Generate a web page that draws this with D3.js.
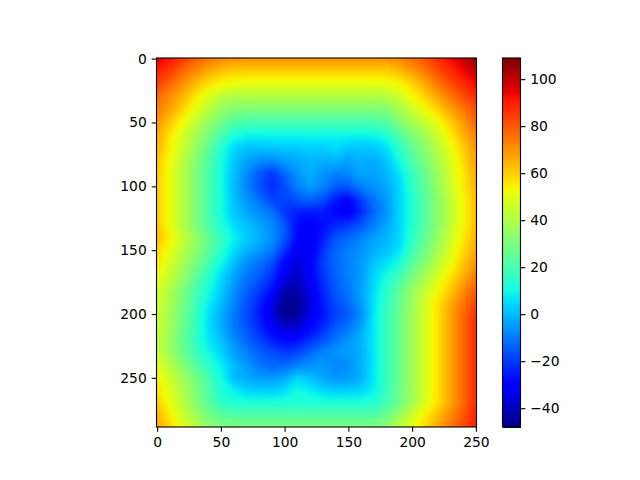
<!DOCTYPE html>
<html><head><meta charset="utf-8">
<script src="https://cdn.jsdelivr.net/npm/d3@7"></script>
<style>html,body{margin:0;padding:0;background:#fff}svg{display:block}
text{font-family:"DejaVu Sans",sans-serif;font-size:13.89px;fill:#000}</style></head>
<body><svg id="c" width="640" height="480"></svg>
<script>
const xTicks=[0,50,100,150,200,250];
const yTicks=[0,50,100,150,200,250];
const cbarTicks=[-40,-20,0,20,40,60,80,100];
const valueMin=-48, valueMax=109;
const xExtent=[-0.5,250.5], yExtent=[288.5,-0.5];
const sampleStep=10;
// field values, one row per 10 data units of y, 10 data units of x apart
const fieldRows=[
[97,92,86,80,76,73,71,71,71,71,71,71,71,71,71,71,71,71,71,73,77,81,88,94,100,108],
[90,85,78,72,67,63,61,61,61,61,61,61,61,61,61,61,61,61,61,64,69,75,82,88,94,101],
[85,78,71,64,58,54,52,51,51,51,51,51,51,51,51,51,51,51,51,54,60,67,75,82,88,94],
[78,72,65,57,49,43,41,41,41,41,41,41,41,41,41,41,41,41,42,46,53,60,68,75,82,88],
[75,68,60,51,43,36,32,31,31,31,31,31,31,31,31,31,31,31,32,39,46,53,60,68,75,82],
[71,62,53,44,36,29,23,21,21,21,21,21,21,21,21,21,21,21,23,32,39,45,52,61,70,79],
[67,57,48,39,31,22,13,10,10,10,10,10,10,10,10,10,10,10,14,23,31,38,47,56,65,74],
[66,55,46,36,26,15,5,2,2,3,3,3,4,4,6,3,2,3,6,16,26,34,42,51,61,71],
[63,53,43,33,23,13,3,-3,-6,-7,-4,-2,0,-1,0,-4,0,-2,3,12,22,31,40,49,59,69],
[62,52,42,32,22,12,2,-6,-14,-20,-12,-5,-1,-5,-8,-7,-2,-3,0,7,17,27,37,47,57,67],
[62,52,42,32,22,12,1,-7,-15,-22,-16,-8,-3,-7,-14,-14,-8,-5,-2,5,16,26,36,46,56,66],
[62,52,42,32,22,12,2,-5,-11,-18,-18,-14,-12,-15,-24,-28,-18,-10,-4,5,14,24,34,44,54,64],
[62,52,42,32,22,12,3,-2,-6,-10,-20,-24,-24,-24,-28,-31,-22,-12,-5,5,14,24,34,44,54,64],
[62,52,42,32,22,14,6,2,-2,-7,-14,-27,-31,-26,-22,-20,-15,-8,-3,5,14,24,34,44,54,64],
[65,55,45,36,27,18,10,4,0,-5,-14,-28,-32,-24,-15,-12,-8,-3,0,5,16,26,36,46,56,66],
[60,51,43,35,25,16,6,0,-4,-9,-20,-32,-32,-20,-12,-8,-5,-1,2,7,19,29,39,49,59,68],
[57,48,39,31,21,11,2,-6,-10,-16,-28,-36,-30,-18,-12,-8,-4,3,7,12,24,33,43,52,62,71],
[54,45,36,26,16,6,-2,-9,-14,-20,-32,-38,-30,-20,-13,-8,-4,5,12,20,30,39,48,57,66,75],
[50,41,32,22,13,4,-5,-12,-18,-26,-40,-42,-32,-22,-14,-9,-3,6,15,25,35,44,53,62,71,80],
[48,39,30,20,10,2,-7,-15,-22,-32,-45,-44,-34,-24,-16,-11,-4,7,17,27,37,47,57,66,75,84],
[47,38,29,18,7,-1,-9,-16,-24,-35,-47,-45,-34,-25,-18,-14,-6,8,18,28,38,48,58,68,78,88],
[47,38,28,18,7,-1,-9,-15,-22,-30,-37,-36,-28,-22,-14,-10,-3,8,18,28,38,48,58,68,78,88],
[45,36,27,17,8,2,-6,-12,-18,-24,-28,-27,-21,-16,-10,-5,0,8,18,28,38,48,58,68,78,88],
[46,37,28,19,11,5,-3,-8,-13,-16,-19,-17,-12,-7,-5,-4,-1,8,18,28,38,48,58,68,78,88],
[51,42,33,24,16,9,1,-4,-10,-12,-12,-8,-6,-4,-7,-6,-1,8,18,28,38,48,58,68,78,88],
[55,46,38,30,22,12,1,-2,-4,-4,-2,5,2,-2,-5,-4,-1,8,18,28,38,48,58,68,78,88],
[58,49,41,32,23,13,9,5,4,4,6,11,9,5,4,4,5,9,18,28,38,48,58,68,78,88],
[62,52,43,34,25,17,14,14,14,14,14,14,14,14,14,14,14,14,21,29,39,49,58,68,78,88],
[66,56,47,38,30,25,24,24,24,24,24,24,24,24,24,24,24,24,28,38,47,56,64,73,81,90],
[68,60,51,43,36,33,32,32,32,32,32,32,32,32,32,32,32,32,35,44,52,60,68,76,84,90]
];

// matplotlib "jet" anchor table
const jetR=d3.scaleLinear().domain([0,0.35,0.66,0.89,1]).range([0,0,1,1,0.5]);
const jetG=d3.scaleLinear().domain([0,0.125,0.375,0.64,0.91,1]).range([0,0,1,1,0,0]);
const jetB=d3.scaleLinear().domain([0,0.11,0.34,0.65,1]).range([0.5,1,1,0,0]);
const norm=d3.scaleLinear().domain([valueMin,valueMax]).range([0,1]).clamp(true);
const jet=v=>{const t=norm(v);return `rgb(${Math.round(jetR(t)*255)},${Math.round(jetG(t)*255)},${Math.round(jetB(t)*255)})`;};

const svg=d3.select("#c");
const L=156.5,R=476.5,T=58,B=427;
const x=d3.scaleLinear().domain(xExtent).range([L,R]);
const y=d3.scaleLinear().domain(yExtent).range([B,T]);

const defs=svg.append("defs");
defs.append("clipPath").attr("id","ax").append("rect")
  .attr("x",L).attr("y",T).attr("width",R-L).attr("height",B-T);
const soft=defs.append("filter").attr("id","soft").attr("filterUnits","userSpaceOnUse")
  .attr("x",L-20).attr("y",T-20).attr("width",R-L+40).attr("height",B-T+40)
  .attr("color-interpolation-filters","sRGB");
soft.append("feGaussianBlur").attr("stdDeviation",2);

const nx=fieldRows[0].length, ny=fieldRows.length;
const thresholds=d3.range(valueMin,valueMax+1,1);
const contours=d3.contours().size([nx,ny]).thresholds(thresholds)(fieldRows.flat());
const gridPath=d3.geoPath(d3.geoTransform({point(gx,gy){
  this.stream.point(x((gx-0.5)*sampleStep),y((gy-0.5)*sampleStep));
}}));
const gField=svg.append("g").attr("clip-path","url(#ax)").append("g").attr("filter","url(#soft)");
gField.selectAll("path").data(contours).join("path")
  .attr("d",gridPath).attr("fill",d=>jet(d.value)).attr("stroke","none");

function style(g){
  g.selectAll("path.domain").remove();
  g.selectAll("line").attr("stroke","#000").attr("stroke-width",1.11);
  g.selectAll("text").attr("fill","#000").style("font-family",'"DejaVu Sans",sans-serif').style("font-size","13.89px");
}
svg.append("g").attr("transform",`translate(0,${B})`)
  .call(d3.axisBottom(x).tickValues(xTicks).tickSize(4.86).tickPadding(4.86).tickFormat(d3.format("d"))).call(style);
svg.append("g").attr("transform",`translate(${L},0)`)
  .call(d3.axisLeft(y).tickValues(yTicks).tickSize(4.86).tickPadding(4.86).tickFormat(d3.format("d"))).call(style);
svg.append("rect").attr("x",L).attr("y",T).attr("width",R-L).attr("height",B-T)
  .attr("fill","none").attr("stroke","#000").attr("stroke-width",1.11);

// colour bar
const CL=502.5,CR=520.5;
const cy=d3.scaleLinear().domain([valueMin,valueMax]).range([B,T]);
const levels=d3.range(256).map(i=>valueMin+(valueMax-valueMin)*i/256);
const levelH=(valueMax-valueMin)/256;
svg.append("g").attr("shape-rendering","crispEdges").selectAll("rect").data(levels).join("rect")
  .attr("x",CL).attr("width",CR-CL)
  .attr("y",d=>cy(d+levelH)).attr("height",d=>cy(d)-cy(d+levelH)+1)
  .attr("fill",d=>jet(d+levelH/2));
svg.append("g").attr("transform",`translate(${CR},0)`)
  .call(d3.axisRight(cy).tickValues(cbarTicks).tickSize(4.86).tickPadding(4.86).tickFormat(d3.format("d"))).call(style);
svg.append("rect").attr("x",CL).attr("y",T).attr("width",CR-CL).attr("height",B-T)
  .attr("fill","none").attr("stroke","#000").attr("stroke-width",1.11);
</script></body></html>
